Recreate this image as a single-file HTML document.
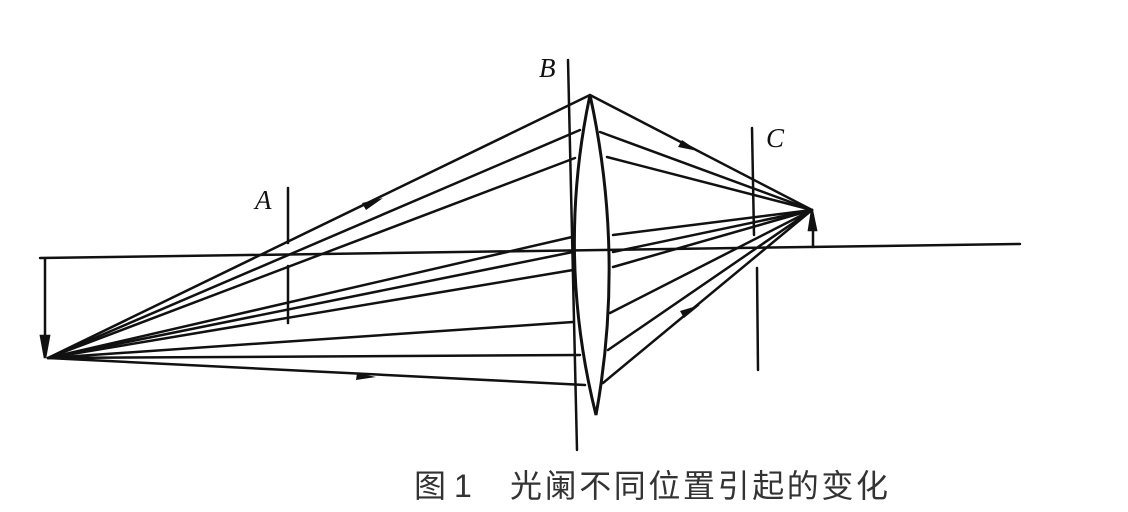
<!DOCTYPE html>
<html><head><meta charset="utf-8"><style>
html,body{margin:0;padding:0;background:#fff;}
svg{display:block;}
</style></head><body>
<svg width="1128" height="512" viewBox="0 0 1128 512" xmlns="http://www.w3.org/2000/svg">
<g stroke="#111" stroke-width="2.5" fill="none" stroke-linecap="round">
<line x1="40" y1="258" x2="1020" y2="244"/>
<line x1="45" y1="259" x2="45" y2="350"/>
<path d="M41,336 L45,358 L49,336 z" fill="#111"/>
<line x1="813" y1="247" x2="813" y2="220"/>
<path d="M809,230 L812,211 L816,230 z" fill="#111"/>
<line x1="288" y1="188" x2="288" y2="243"/>
<line x1="288" y1="266" x2="288" y2="323"/>
<line x1="568" y1="60" x2="577" y2="450"/>
<line x1="752" y1="128" x2="754" y2="235"/>
<line x1="757" y1="268" x2="758" y2="370"/>
<path d="M590,95 Q556,255 596,415 Q625,255 590,95 z" stroke-width="3"/>
<line x1="48" y1="358" x2="590" y2="95"/>
<line x1="48" y1="358" x2="580" y2="130"/>
<line x1="48" y1="358" x2="575" y2="158"/>
<line x1="48" y1="358" x2="572" y2="237"/>
<line x1="48" y1="358" x2="573" y2="252"/>
<line x1="48" y1="358" x2="573" y2="270"/>
<line x1="48" y1="358" x2="573" y2="322"/>
<line x1="48" y1="358" x2="580" y2="355"/>
<line x1="48" y1="358" x2="585" y2="385"/>
<line x1="590" y1="95" x2="812" y2="210"/>
<line x1="600" y1="132" x2="812" y2="210"/>
<line x1="607" y1="157" x2="812" y2="210"/>
<line x1="613" y1="235" x2="812" y2="210"/>
<line x1="613" y1="252" x2="812" y2="210"/>
<line x1="613" y1="267" x2="812" y2="210"/>
<line x1="610" y1="313" x2="812" y2="210"/>
<line x1="608" y1="350" x2="812" y2="210"/>
<line x1="603" y1="383" x2="812" y2="210"/>
</g>
<g fill="#111">
<path d="M383,198 L366,210 L362,203 z"/>
<path d="M376,377 L356,380 L357,373 z"/>
<path d="M698,151 L678,147 L682,140 z"/>
<path d="M700,305 L684,318 L680,311 z"/>
</g>
<g font-family="'Liberation Serif', serif" font-style="italic" font-size="27" fill="#111">
<text x="255" y="209">A</text>
<text x="539" y="77">B</text>
<text x="766" y="147">C</text>
</g>
<g font-family="'Liberation Sans','Noto Sans CJK SC',sans-serif" font-size="32" fill="#333">
<text x="414" y="497">图</text>
<text x="454" y="497">1</text>
<text x="510" y="497" textLength="378" lengthAdjust="spacing">光阑不同位置引起的变化</text>
</g>
</svg>
</body></html>
